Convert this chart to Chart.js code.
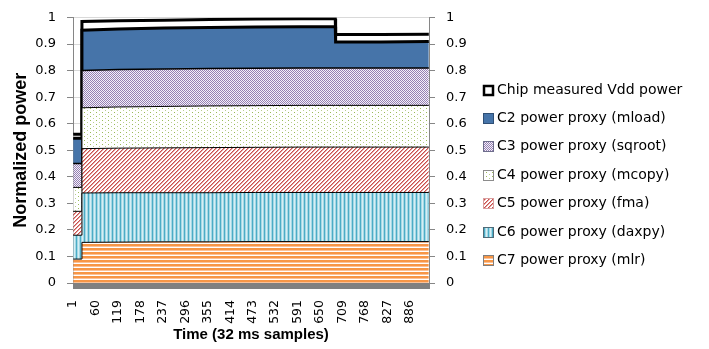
<!DOCTYPE html>
<html>
<head>
<meta charset="utf-8">
<script src="https://cdn.jsdelivr.net/npm/chart.js@4.4.1/dist/chart.umd.min.js"></script>
<style>
  html, body { margin: 0; padding: 0; background: #ffffff; }
  #wrap { width: 709px; height: 349px; position: relative; }
</style>
</head>
<body>
<div id="wrap"><canvas id="powerChart" width="709" height="349"></canvas></div>
<script>
// Sample numbers (32 ms samples) at which each series is given
const sampleIndex = [1, 23, 24, 120, 240, 360, 480, 600, 690, 691, 810, 936];

// Per-core power proxy contributions (stacked, normalized)
const c7Mlr    = [0.090, 0.090, 0.153, 0.154, 0.155, 0.155, 0.156, 0.156, 0.156, 0.156, 0.156, 0.156];
const c6Daxpy  = [0.090, 0.090, 0.186, 0.186, 0.185, 0.185, 0.185, 0.185, 0.185, 0.185, 0.185, 0.185];
const c5Fma    = [0.090, 0.090, 0.167, 0.168, 0.169, 0.170, 0.170, 0.171, 0.171, 0.171, 0.171, 0.171];
const c4Mcopy  = [0.090, 0.090, 0.154, 0.155, 0.156, 0.157, 0.157, 0.157, 0.157, 0.157, 0.157, 0.157];
const c3Sqroot = [0.090, 0.090, 0.140, 0.141, 0.141, 0.141, 0.141, 0.141, 0.141, 0.141, 0.141, 0.141];
const c2Mload  = [0.095, 0.095, 0.152, 0.153, 0.154, 0.154, 0.155, 0.155, 0.155, 0.098, 0.098, 0.100];

// Measured chip Vdd power (absolute, normalized)
const chipVdd  = [0.560, 0.560, 0.985, 0.988, 0.990, 0.992, 0.994, 0.995, 0.995, 0.936, 0.936, 0.937];

// Axis ticks
const xTickValues = [1, 60, 119, 178, 237, 296, 355, 414, 473, 532, 591, 650, 709, 768, 827, 886];
const yTickStep = 0.1;

const seriesLabels = [
  'C7 power proxy (mlr)',
  'C6 power proxy (daxpy)',
  'C5 power proxy (fma)',
  'C4 power proxy (mcopy)',
  'C3 power proxy (sqroot)',
  'C2 power proxy (mload)',
  'Chip measured Vdd power'
];

// ---- fill patterns ----
function makePattern(w, h, paint) {
  const c = document.createElement('canvas');
  c.width = w; c.height = h;
  const g = c.getContext('2d');
  g.fillStyle = '#ffffff';
  g.fillRect(0, 0, w, h);
  paint(g);
  return g.createPattern(c, 'repeat');
}
function px(g, color, x, y) { g.fillStyle = color; g.fillRect(x, y, 1, 1); }

// horizontal orange stripes
const patOrange = makePattern(1, 4, g => {
  px(g, '#F79646', 0, 0); px(g, '#F79646', 0, 1); px(g, '#FBC197', 0, 2);
});
// vertical aqua stripes
const patAqua = makePattern(4, 1, g => {
  px(g, '#4BACC6', 0, 0); px(g, '#A5D8E5', 1, 0); px(g, '#D6EEF4', 2, 0); px(g, '#A5D8E5', 3, 0);
});
// red diagonal hatch
const patRed = makePattern(4, 4, g => {
  for (let i = 0; i < 4; i++) {
    px(g, '#C8504D', i, 3 - i);
    px(g, '#E69D9B', (i + 1) % 4, 3 - i);
  }
});
// sparse green dots
const patGreen = makePattern(6, 4, g => {
  px(g, '#9BBB59', 0, 0); px(g, '#B9CF8E', 3, 2);
});
// purple checker
const patPurple = makePattern(2, 2, g => {
  px(g, '#9580B4', 0, 0); px(g, '#9580B4', 1, 1);
  px(g, '#F4F1F8', 1, 0); px(g, '#F4F1F8', 0, 1);
});
const solidBlue = '#4674A9';

function toPoints(values) {
  return values.map((v, i) => ({ x: sampleIndex[i], y: v }));
}

const baseLine = {
  pointRadius: 0,
  pointHoverRadius: 0,
  tension: 0,
  borderColor: '#000000',
  borderWidth: 1,
  stack: 'proxies'
};

const datasets = [
  Object.assign({}, baseLine, { label: seriesLabels[0], data: toPoints(c7Mlr),    backgroundColor: patOrange, fill: 'origin', swatchBorder: '#7F7F7F' }),
  Object.assign({}, baseLine, { label: seriesLabels[1], data: toPoints(c6Daxpy),  backgroundColor: patAqua,   fill: '-1', swatchBorder: '#4F6B78' }),
  Object.assign({}, baseLine, { label: seriesLabels[2], data: toPoints(c5Fma),    backgroundColor: patRed,    fill: '-1', swatchBorder: '#D9A0A0' }),
  Object.assign({}, baseLine, { label: seriesLabels[3], data: toPoints(c4Mcopy),  backgroundColor: patGreen,  fill: '-1', swatchBorder: '#8C8C8C' }),
  Object.assign({}, baseLine, { label: seriesLabels[4], data: toPoints(c3Sqroot), backgroundColor: patPurple, fill: '-1', borderWidth: 1.5, swatchBorder: '#6E6E8C' }),
  Object.assign({}, baseLine, { label: seriesLabels[5], data: toPoints(c2Mload),  backgroundColor: solidBlue, fill: '-1', borderWidth: 3, swatchBorder: '#2F4F75' }),
  Object.assign({}, baseLine, { label: seriesLabels[6], data: toPoints(chipVdd),  backgroundColor: '#ffffff', fill: '-1', borderWidth: 3, stack: 'chip', swatchBorder: '#000000' })
];

// thick grey band under the zero line
const baseBand = {
  id: 'baseBand',
  afterDatasetsDraw(chart) {
    const { ctx, chartArea } = chart;
    ctx.save();
    ctx.fillStyle = '#808080';
    ctx.fillRect(chartArea.left, chartArea.bottom, chartArea.right - chartArea.left + 1, 6);
    ctx.restore();
  }
};

// legend listed at the right, top entry = last dataset
const sideLegend = {
  id: 'sideLegend',
  afterDraw(chart) {
    const { ctx } = chart;
    const ds = chart.data.datasets;
    ctx.save();
    ctx.font = '14px "DejaVu Sans"';
    ctx.textBaseline = 'middle';
    ctx.textAlign = 'left';
    for (let k = 0; k < ds.length; k++) {
      const d = ds[ds.length - 1 - k];
      const cy = 90 + k * 28.4;
      const bx = 483, by = Math.round(cy - 5.5);
      ctx.fillStyle = d.backgroundColor;
      ctx.fillRect(bx, by, 11, 11);
      if (d.stack === 'chip') {
        ctx.lineWidth = 2.5;
        ctx.strokeStyle = '#000000';
        ctx.strokeRect(bx + 1, by + 1, 9, 9);
      } else {
        ctx.lineWidth = 1;
        ctx.strokeStyle = d.swatchBorder;
        ctx.strokeRect(bx + 0.5, by + 0.5, 10, 10);
      }
      ctx.fillStyle = '#000000';
      ctx.fillText(d.label, 497, cy);
    }
    ctx.restore();
  }
};

const fmt = v => String(+Number(v).toFixed(1));

new Chart(document.getElementById('powerChart'), {
  type: 'line',
  data: { datasets },
  plugins: [baseBand, sideLegend],
  options: {
    responsive: false,
    animation: false,
    devicePixelRatio: 1,
    layout: { padding: { top: 7, right: 200, bottom: 0, left: 0 } },
    plugins: {
      legend: { display: false },
      tooltip: { enabled: false },
      filler: { propagate: false }
    },
    scales: {
      x: {
        type: 'linear',
        min: 0.5,
        max: 936.5,
        afterBuildTicks: s => { s.ticks = xTickValues.map(v => ({ value: v })); },
        afterFit: s => { s.height = 66; },
        ticks: {
          autoSkip: false,
          minRotation: 90,
          maxRotation: 90,
          padding: 9,
          color: '#000000',
          font: { family: 'DejaVu Sans', size: 12.5 },
          callback: v => String(v)
        },
        grid: { display: false },
        border: { display: false },
        title: {
          display: true,
          text: 'Time (32 ms samples)',
          color: '#000000',
          font: { family: 'Liberation Sans', weight: 'bold', size: 15 },
          padding: { top: 0, bottom: 5 }
        }
      },
      y: {
        position: 'left',
        stacked: true,
        min: 0,
        max: 1,
        afterFit: s => { s.width = 73; },
        ticks: {
          stepSize: yTickStep,
          padding: 11,
          color: '#000000',
          font: { family: 'DejaVu Sans', size: 13, lineHeight: 1 },
          callback: fmt
        },
        grid: { color: '#D9D9D9', tickColor: '#868686', tickLength: 6 },
        border: { color: '#868686' },
        title: {
          display: true,
          text: 'Normalized power',
          color: '#000000',
          font: { family: 'Liberation Sans', weight: 'bold', size: 18 },
          padding: { top: 10, bottom: 0 }
        }
      },
      yRight: {
        position: 'right',
        min: 0,
        max: 1,
        afterFit: s => { s.width = 80; },
        ticks: {
          stepSize: yTickStep,
          padding: 11,
          color: '#000000',
          font: { family: 'DejaVu Sans', size: 13, lineHeight: 1 },
          callback: fmt
        },
        grid: { drawOnChartArea: false, tickColor: '#868686', tickLength: 6 },
        border: { color: '#868686' }
      }
    }
  }
});
</script>
</body>
</html>
